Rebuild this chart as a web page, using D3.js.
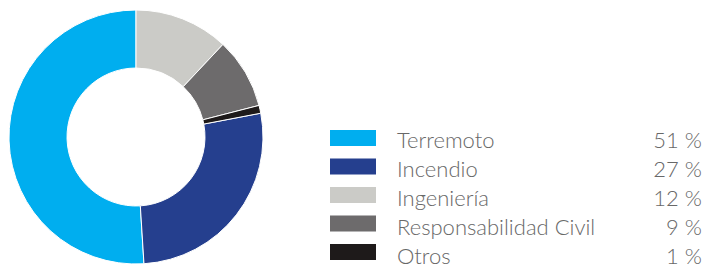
<!DOCTYPE html>
<html><head><meta charset="utf-8">
<script src="https://cdn.jsdelivr.net/npm/d3@7"></script>
<style>html,body{margin:0;padding:0;background:#fff;}</style>
</head><body>
<svg id="c" width="705" height="265"></svg>
<script>
const categories = ["Terremoto", "Incendio", "Ingeniería", "Responsabilidad Civil", "Otros"];
const values = [51, 27, 12, 9, 1];
const labels = ["51 %", "27 %", "12 %", "9 %", "1 %"];
const colors = ["#00AEEF", "#253F8E", "#CBCBC7", "#6D6B6C", "#1E1A1A"];
// drawing order clockwise from 12 o'clock
const drawOrder = ["Ingeniería", "Responsabilidad Civil", "Otros", "Incendio", "Terremoto"];

const svg = d3.select("#c");
const color = d3.scaleOrdinal().domain(categories).range(colors);
const data = categories.map((c, i) => ({cat: c, v: values[i], lab: labels[i]}));

const pie = d3.pie().value(d => d.v)
  .sort((a, b) => drawOrder.indexOf(a.cat) - drawOrder.indexOf(b.cat));
const arc = d3.arc().innerRadius(69).outerRadius(127);

svg.append("g").attr("transform", "translate(136,137)")
  .selectAll("path").data(pie(data)).join("path")
  .attr("d", arc).attr("fill", d => color(d.data.cat))
  .attr("stroke", "#fff").attr("stroke-width", 1);

const ySw = d3.scalePoint().domain(categories).range([130, 244]);
const yTx = d3.scalePoint().domain(categories).range([147.7, 263.5]);
const lg = svg.append("g");
lg.selectAll("rect").data(data).join("rect")
  .attr("x", 330).attr("y", d => ySw(d.cat)).attr("width", 46).attr("height", 16)
  .attr("fill", d => color(d.cat));
const font = "Lato, 'Open Sans', sans-serif";
lg.selectAll("text.cat").data(data).join("text").attr("class", "cat")
  .attr("x", 397).attr("y", d => yTx(d.cat))
  .attr("font-family", font).attr("font-weight", 300)
  .attr("font-size", 22).attr("fill", "#686868").text(d => d.cat);
lg.selectAll("text.val").data(data).join("text").attr("class", "val")
  .attr("x", 702).attr("y", d => yTx(d.cat)).attr("text-anchor", "end")
  .attr("font-family", font).attr("font-weight", 300)
  .attr("font-size", 22).attr("fill", "#686868").text(d => d.lab);
</script>
</body></html>
